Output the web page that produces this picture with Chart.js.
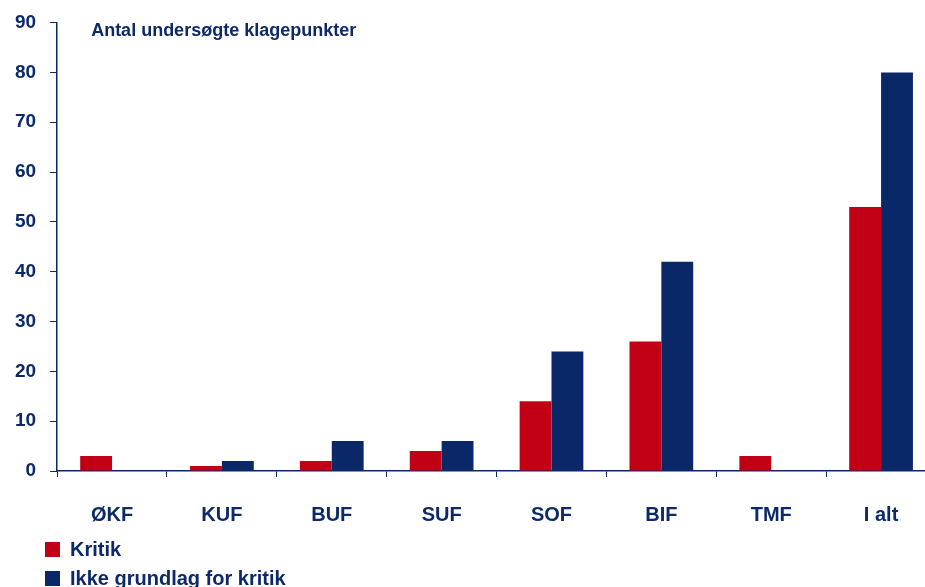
<!DOCTYPE html>
<html lang="da">
<head>
<meta charset="utf-8">
<script src="https://cdn.jsdelivr.net/npm/chart.js@4"></script>
<style>
  html, body { margin: 0; padding: 0; background: #fff; overflow: hidden; }
  #wrap { position: relative; width: 936px; height: 587px; }
  #legend {
    position: absolute; left: 45px; top: 535px;
    font: bold 20px 'Liberation Sans', Arial, sans-serif; color: #0c2a6a;
  }
  .legend-item { display: flex; align-items: center; height: 29px; }
  .legend-swatch { width: 15px; height: 15px; margin-right: 10px; }
</style>
</head>
<body>
<div id="wrap">
  <canvas id="chart"></canvas>
  <div id="legend"></div>
</div>
<script>
const categories = ['ØKF', 'KUF', 'BUF', 'SUF', 'SOF', 'BIF', 'TMF', 'I alt'];
const kritik = [3, 1, 2, 4, 14, 26, 3, 53];
const ikkeGrundlag = [0, 2, 6, 6, 24, 42, 0, 80];
const yTicks = [0, 10, 20, 30, 40, 50, 60, 70, 80, 90];

const NAVY = '#0a2868';
const RED = '#c10016';
const TEXT = '#0c2a6a';
const FONT = "'Liberation Sans', Arial, sans-serif";

// title drawn inside the plot area, top-left
const innerTitle = {
  id: 'innerTitle',
  afterDraw(chart) {
    const { ctx, chartArea } = chart;
    ctx.save();
    ctx.font = `bold 18px ${FONT}`;
    ctx.fillStyle = TEXT;
    ctx.textBaseline = 'middle';
    ctx.fillText('Antal undersøgte klagepunkter', chartArea.left + 34, chartArea.top + 8);
    ctx.restore();
  }
};

const chart = new Chart(document.getElementById('chart'), {
  type: 'bar',
  data: {
    labels: categories,
    datasets: [
      { label: 'Kritik', data: kritik, backgroundColor: RED },
      { label: 'Ikke grundlag for kritik', data: ikkeGrundlag, backgroundColor: NAVY }
    ]
  },
  options: {
    responsive: true,
    maintainAspectRatio: false,
    animation: false,
    layout: { padding: { top: 10, left: 1, right: 0, bottom: 34 } },
    datasets: { bar: { categoryPercentage: 0.58, barPercentage: 1 } },
    plugins: {
      legend: { display: false },
      tooltip: { enabled: false }
    },
    scales: {
      x: {
        grid: { drawOnChartArea: false, tickLength: 6, tickColor: NAVY, offset: true },
        border: { color: NAVY, width: 1.5 },
        ticks: { color: TEXT, font: { family: FONT, size: 20, weight: 'bold' }, padding: 26 }
      },
      y: {
        min: 0,
        max: 90,
        afterBuildTicks: (axis) => { axis.ticks = yTicks.map((v) => ({ value: v })); },
        grid: { drawOnChartArea: false, tickLength: 7, tickColor: NAVY },
        border: { color: NAVY, width: 1.5 },
        ticks: { color: TEXT, font: { family: FONT, size: 19, weight: 'bold', lineHeight: 0.9 }, padding: 14 }
      }
    }
  },
  plugins: [innerTitle]
});

const legendEl = document.getElementById('legend');
chart.data.datasets.forEach((ds) => {
  const item = document.createElement('div');
  item.className = 'legend-item';
  const swatch = document.createElement('span');
  swatch.className = 'legend-swatch';
  swatch.style.backgroundColor = ds.backgroundColor;
  item.appendChild(swatch);
  item.appendChild(document.createTextNode(ds.label));
  legendEl.appendChild(item);
});
</script>
</body>
</html>
